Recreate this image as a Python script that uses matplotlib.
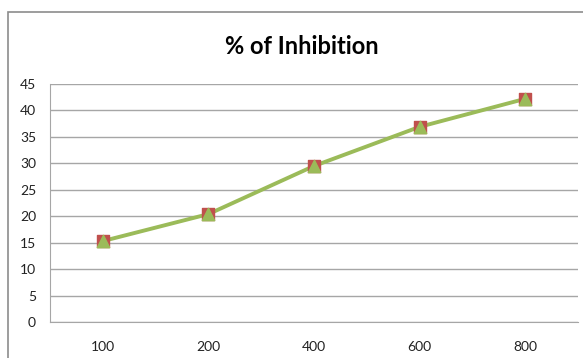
import matplotlib
matplotlib.use('Agg')
import matplotlib.pyplot as plt
from matplotlib.patches import Rectangle

concentration = ['100', '200', '400', '600', '800']
inhibition = [15.3, 20.4, 29.5, 36.9, 42.2]

plt.rcParams['font.family'] = ['Lato', 'DejaVu Sans']

fig = plt.figure(figsize=(5.83, 3.58), dpi=100)
# outer chart border (cut off at right and bottom in the original)
fig.patches.append(Rectangle((8/583, -0.1), 1.2, 1 - 12/358 + 0.1, transform=fig.transFigure,
                             fill=False, edgecolor='#8c8c8c', lw=1.2))

ax = fig.add_axes([50/583, 1 - 322/358, 528/583, 238/358])
pos = [i + 0.5 for i in range(len(concentration))]
ax.plot(pos, inhibition, color='#9BBB59', lw=2.8, zorder=3)
ax.scatter(pos, inhibition, marker='s', s=70, color='#C0504D', zorder=4)
ax.scatter(pos, inhibition, marker='^', s=80, color='#9BBB59', zorder=5)

ax.set_xlim(0, 5)
ax.set_ylim(0, 45)
ax.set_yticks(range(0, 46, 5))
ax.set_xticks(pos)
ax.set_xticklabels(concentration)
ax.yaxis.grid(True, color='#a6a6a6', lw=1)
ax.set_axisbelow(True)
for s in ['top', 'right']:
    ax.spines[s].set_visible(False)
for s in ['left', 'bottom']:
    ax.spines[s].set_color('#a6a6a6')
ax.tick_params(length=0, labelsize=10, colors='#222222')
ax.tick_params(axis='x', pad=14)
ax.tick_params(axis='y', pad=10)

fig.text(302/583, 1 - 46/358, '% of Inhibition', ha='center', va='center',
         fontsize=17, fontweight='bold')

fig.savefig('out.png', dpi=100)
